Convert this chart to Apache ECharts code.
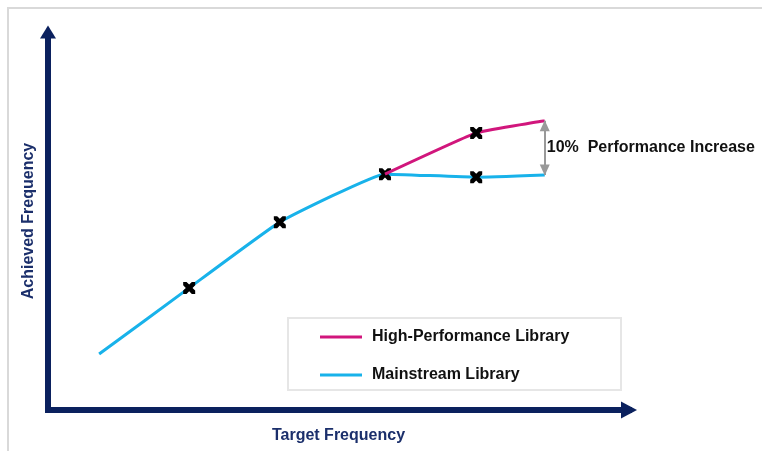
<!DOCTYPE html>
<html>
<head>
<meta charset="utf-8">
<script src="https://cdn.jsdelivr.net/npm/echarts@6/dist/echarts.min.js"></script>
<style>
html,body{margin:0;padding:0;background:#fff;}
#chart{width:762px;height:451px;}
</style>
</head>
<body>
<div id="chart"></div>
<script>
// Relative units (axes are unlabelled in the reference)
var mainstreamX = [0.88, 2.43, 3.99, 5.80, 7.37, 8.55];
var mainstreamY = [1.48, 3.23, 4.97, 6.24, 6.16, 6.22];
var mainstreamMarked = [false, true, true, true, true, false];
var highPerfX = [5.80, 7.37, 8.55];
var highPerfY = [6.24, 7.33, 7.65];
var highPerfMarked = [false, true, false];
var seriesNames = ['High-Performance Library', 'Mainstream Library'];
var xAxisName = 'Target Frequency';
var yAxisName = 'Achieved Frequency';
var annotationText = '10%  Performance Increase';

var crossPath = 'path://M0,0 L2.8,0 L5,2.2 L7.2,0 L10,0 L10,2.8 L7.8,5 L10,7.2 L10,10 L7.2,10 L5,7.8 L2.8,10 L0,10 L0,7.2 L2.2,5 L0,2.8 Z';

function build(xs, ys, marks) {
  return xs.map(function (x, i) {
    return {
      value: [x, ys[i]],
      symbol: marks[i] ? crossPath : 'none',
      symbolSize: 12,
      itemStyle: marks[i] ? {color: '#000000'} : undefined
    };
  });
}

var navy = '#0b215e';
var chart = echarts.init(document.getElementById('chart'), null, {renderer: 'canvas'});
var fontFam = '"Liberation Sans", Arial, sans-serif';

chart.setOption({
  animation: false,
  backgroundColor: '#ffffff',
  grid: {left: 48, top: 32, right: 133, bottom: 41, containLabel: false, outerBoundsMode: 'none'},
  xAxis: {
    type: 'value', min: 0, max: 10,
    axisLine: {show: true, symbol: ['none', 'triangle'], symbolSize: [17, 16],
      lineStyle: {color: navy, width: 6, cap: 'square'}},
    axisTick: {show: false}, axisLabel: {show: false}, splitLine: {show: false},
    name: xAxisName, nameLocation: 'middle', nameGap: 18,
    nameTextStyle: {color: '#1b2f6b', fontSize: 16, fontWeight: 'bold', fontFamily: fontFam, verticalAlign: 'top'}
  },
  yAxis: {
    type: 'value', min: 0, max: 10,
    axisLine: {show: true, symbol: ['none', 'triangle'], symbolSize: [16, 13],
      lineStyle: {color: navy, width: 6, cap: 'butt'}},
    axisTick: {show: false}, axisLabel: {show: false}, splitLine: {show: false},
    name: yAxisName, nameLocation: 'middle', nameGap: 11,
    nameTextStyle: {color: '#1b2f6b', fontSize: 16, fontWeight: 'bold', fontFamily: fontFam}
  },
  legend: {
    show: true, orient: 'vertical', left: 315, top: 324,
    itemWidth: 42, itemHeight: 3, itemGap: 22,
    icon: 'rect',
    data: seriesNames,
    textStyle: {color: '#111111', fontSize: 16, fontWeight: 'bold', fontFamily: fontFam, padding: [0, 0, 0, 5]}
  },
  graphic: [
    {type: 'polyline', shape: {points: [[8, 451], [8, 8], [762, 8]]},
      style: {stroke: '#d9d9d9', lineWidth: 2, fill: null}, silent: true},
    {type: 'rect', shape: {x: 288, y: 318, width: 333, height: 72},
      style: {stroke: '#e6e6e6', lineWidth: 2, fill: '#ffffff'}, z: -1, silent: true}
  ],
  series: [
    {
      name: seriesNames[0], type: 'line', z: 3,
      data: build(highPerfX, highPerfY, highPerfMarked),
      lineStyle: {color: '#d1167c', width: 3},
      itemStyle: {color: '#d1167c'},
      color: '#d1167c',
      smooth: 0.1,
      markLine: {
        silent: true, symbol: ['triangle', 'triangle'], symbolSize: [10, 11],
        symbolOffset: [[0, 5], [0, 5]],
        lineStyle: {color: '#999999', width: 2, type: 'solid'},
        label: {show: false},
        data: [[{coord: [highPerfX[2], highPerfY[2]]}, {coord: [mainstreamX[5], mainstreamY[5]]}]]
      },
      markPoint: {
        silent: true, symbol: 'circle', symbolSize: 0,
        label: {show: true, position: 'right', distance: 2, formatter: annotationText,
          color: '#111111', fontSize: 16, fontWeight: 'bold', fontFamily: fontFam},
        data: [{coord: [highPerfX[2], (highPerfY[2] + mainstreamY[5]) / 2]}]
      }
    },
    {
      name: seriesNames[1], type: 'line', z: 2,
      data: build(mainstreamX, mainstreamY, mainstreamMarked),
      lineStyle: {color: '#18b2ea', width: 3},
      itemStyle: {color: '#18b2ea'},
      color: '#18b2ea',
      smooth: 0.1
    }
  ]
});
</script>
</body>
</html>
